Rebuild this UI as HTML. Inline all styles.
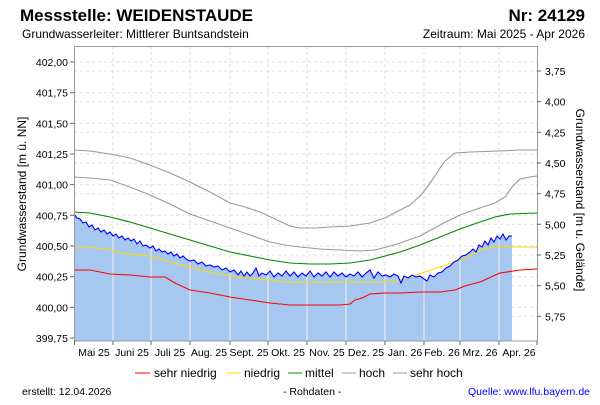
<!DOCTYPE html>
<html><head><meta charset="utf-8"><style>
body{margin:0;width:600px;height:400px;background:#fff;overflow:hidden}
svg{font-family:"Liberation Sans",sans-serif}
</style></head><body>
<svg width="600" height="400" viewBox="0 0 600 400">
<text x="20" y="21" font-size="17" font-weight="bold" fill="#000">Messstelle: WEIDENSTAUDE</text>
<text x="585" y="21" font-size="17" font-weight="bold" text-anchor="end">Nr: 24129</text>
<text x="22" y="38" font-size="12">Grundwasserleiter:  Mittlerer Buntsandstein</text>
<text x="585" y="38" font-size="12" text-anchor="end">Zeitraum: Mai 2025 - Apr 2026</text>
<g stroke="#ddd" stroke-dasharray="3,3" stroke-width="1">
<line x1="74" x2="537" y1="62" y2="62"/><line x1="74" x2="537" y1="92.7" y2="92.7"/><line x1="74" x2="537" y1="123.3" y2="123.3"/><line x1="74" x2="537" y1="154" y2="154"/><line x1="74" x2="537" y1="184.7" y2="184.7"/><line x1="74" x2="537" y1="215.3" y2="215.3"/><line x1="74" x2="537" y1="246" y2="246"/><line x1="74" x2="537" y1="276.7" y2="276.7"/><line x1="74" x2="537" y1="307.3" y2="307.3"/>
<line x1="74" x2="537" y1="71" y2="71"/><line x1="74" x2="537" y1="101.7" y2="101.7"/><line x1="74" x2="537" y1="132.3" y2="132.3"/><line x1="74" x2="537" y1="163" y2="163"/><line x1="74" x2="537" y1="193.7" y2="193.7"/><line x1="74" x2="537" y1="224.3" y2="224.3"/><line x1="74" x2="537" y1="255" y2="255"/><line x1="74" x2="537" y1="285.7" y2="285.7"/><line x1="74" x2="537" y1="316.3" y2="316.3"/>
<line y1="46" y2="341" x1="113" x2="113"/><line y1="46" y2="341" x1="151" x2="151"/><line y1="46" y2="341" x1="190" x2="190"/><line y1="46" y2="341" x1="230" x2="230"/><line y1="46" y2="341" x1="268" x2="268"/><line y1="46" y2="341" x1="307" x2="307"/><line y1="46" y2="341" x1="346" x2="346"/><line y1="46" y2="341" x1="385" x2="385"/><line y1="46" y2="341" x1="424" x2="424"/><line y1="46" y2="341" x1="460" x2="460"/><line y1="46" y2="341" x1="499" x2="499"/>
</g>
<polygon fill="#a6c8f0" points="74,341 74,214 77,218 80,219 83,223 86,222 89,227 92,225 95,230 98,228 101,232 104,230 107,234 110,232 113,236 116,234 119,238 122,236 125,240 128,238 131,241 134,239 137,244 140,241 143,246 146,245 150,248 153,246 156,251 159,249 162,252 165,251 168,254 171,252 174,256 177,254 180,258 183,256 186,259 190,261 194,260 198,264 202,262 206,266 210,265 214,267 218,266 222,270 226,268 230,272 234,270 238,275 241,271 244,276 247,272 250,276 253,273 256,268 259,276 262,273 266,275 270,271 274,277 278,273 282,276 286,271 290,276 294,272 298,277 302,273 306,276 310,271 314,277 318,273 322,276 326,272 330,277 334,272 338,276 342,273 346,277 350,274 354,276 358,272 362,277 366,273 370,270 374,278 378,272 382,276 386,275 390,277 394,274 398,276 401,283 404,276 408,278 412,275 416,277 420,276 424,279 427,281 430,275 434,277 438,273 442,272 446,268 450,266 454,262 458,260 462,256 466,255 470,252 473,249 476,252 479,245 482,247 485,241 488,245 491,238 494,242 497,236 500,239 503,234 506,240 509,236 512,236 512,341"/>
<g stroke="#e8e8e8" stroke-width="1.2">
<line y1="236" y2="341" x1="113" x2="113"/><line y1="248" y2="341" x1="151" x2="151"/><line y1="261" y2="341" x1="190" x2="190"/><line y1="272" y2="341" x1="230" x2="230"/><line y1="275" y2="341" x1="268" x2="268"/><line y1="277" y2="341" x1="307" x2="307"/><line y1="277" y2="341" x1="346" x2="346"/><line y1="277" y2="341" x1="385" x2="385"/><line y1="279" y2="341" x1="424" x2="424"/><line y1="260" y2="341" x1="460" x2="460"/><line y1="239" y2="341" x1="499" x2="499"/>
</g>
<g fill="none" stroke-width="1.1">
<polyline stroke="#999" points="74,150 90,151 110,154 130,158 150,165 170,173 190,182 210,192 230,203 245,207 260,212 275,219 290,226 300,228 315,228 330,227 350,226 370,223 385,218 400,210 410,205 420,196 425,190 430,183 435,176 440,168 445,161 450,157 455,153 470,152 500,151 520,150 537,150"/>
<polyline stroke="#999" points="74,177 90,178 110,180 130,187 150,195 170,204 190,214 210,221 230,228 250,235 270,242 285,245 300,247 320,249 340,250 360,251 375,250 390,246 400,243 420,236 440,225 460,215 480,208 495,203 505,197 512,187 520,179 530,177 537,176"/>
<polyline stroke="#080" points="74,212 90,213 110,217 130,222 150,228 170,234 190,240 210,246 230,252 250,256 270,260 290,263 310,264 330,264 350,263 370,260 385,256 400,252 420,245 440,237 460,229 480,222 495,217 510,214 537,213"/>
<polyline stroke="#ffd700" points="74,247 90,247 110,250 120,253 150,256 170,262 190,267 210,272 230,276 250,278 270,280 285,282 300,282 320,282 340,282 360,282 380,282 395,281 410,277 425,272 440,267 460,260 480,250 500,246 515,247 537,247"/>
<polyline stroke="#f00" points="74,270 90,270 100,272 110,274 130,275 150,277 165,277 175,283 190,290 210,293 230,297 250,300 270,303 290,305 310,305 340,305 350,304 355,300 362,298 370,294 385,293 400,293 420,292 440,292 455,290 465,286 480,282 500,273 520,270 537,269"/>
<polyline stroke="#00f" stroke-width="1.1" points="74,214 77,218 80,219 83,223 86,222 89,227 92,225 95,230 98,228 101,232 104,230 107,234 110,232 113,236 116,234 119,238 122,236 125,240 128,238 131,241 134,239 137,244 140,241 143,246 146,245 150,248 153,246 156,251 159,249 162,252 165,251 168,254 171,252 174,256 177,254 180,258 183,256 186,259 190,261 194,260 198,264 202,262 206,266 210,265 214,267 218,266 222,270 226,268 230,272 234,270 238,275 241,271 244,276 247,272 250,276 253,273 256,268 259,276 262,273 266,275 270,271 274,277 278,273 282,276 286,271 290,276 294,272 298,277 302,273 306,276 310,271 314,277 318,273 322,276 326,272 330,277 334,272 338,276 342,273 346,277 350,274 354,276 358,272 362,277 366,273 370,270 374,278 378,272 382,276 386,275 390,277 394,274 398,276 401,283 404,276 408,278 412,275 416,277 420,276 424,279 427,281 430,275 434,277 438,273 442,272 446,268 450,266 454,262 458,260 462,256 466,255 470,252 473,249 476,252 479,245 482,247 485,241 488,245 491,238 494,242 497,236 500,239 503,234 506,240 509,236 512,236"/>
</g>
<rect x="74.5" y="46.5" width="463" height="294.5" fill="none" stroke="#999"/>
<g stroke="#666">
<line x1="70" x2="74" y1="62" y2="62"/><line x1="70" x2="74" y1="92.7" y2="92.7"/><line x1="70" x2="74" y1="123.3" y2="123.3"/><line x1="70" x2="74" y1="154" y2="154"/><line x1="70" x2="74" y1="184.7" y2="184.7"/><line x1="70" x2="74" y1="215.3" y2="215.3"/><line x1="70" x2="74" y1="246" y2="246"/><line x1="70" x2="74" y1="276.7" y2="276.7"/><line x1="70" x2="74" y1="307.3" y2="307.3"/><line x1="70" x2="74" y1="338" y2="338"/>
<line x1="537" x2="541" y1="71" y2="71"/><line x1="537" x2="541" y1="101.7" y2="101.7"/><line x1="537" x2="541" y1="132.3" y2="132.3"/><line x1="537" x2="541" y1="163" y2="163"/><line x1="537" x2="541" y1="193.7" y2="193.7"/><line x1="537" x2="541" y1="224.3" y2="224.3"/><line x1="537" x2="541" y1="255" y2="255"/><line x1="537" x2="541" y1="285.7" y2="285.7"/><line x1="537" x2="541" y1="316.3" y2="316.3"/>
<line y1="341" y2="345" x1="74.5" x2="74.5"/><line y1="341" y2="345" x1="113" x2="113"/><line y1="341" y2="345" x1="151" x2="151"/><line y1="341" y2="345" x1="190" x2="190"/><line y1="341" y2="345" x1="230" x2="230"/><line y1="341" y2="345" x1="268" x2="268"/><line y1="341" y2="345" x1="307" x2="307"/><line y1="341" y2="345" x1="346" x2="346"/><line y1="341" y2="345" x1="385" x2="385"/><line y1="341" y2="345" x1="424" x2="424"/><line y1="341" y2="345" x1="460" x2="460"/><line y1="341" y2="345" x1="499" x2="499"/><line y1="341" y2="345" x1="537" x2="537"/>
</g>
<g font-size="10.5" text-anchor="end">
<text x="68" y="66">402,00</text><text x="68" y="96.7">401,75</text><text x="68" y="127.3">401,50</text><text x="68" y="158">401,25</text><text x="68" y="188.7">401,00</text><text x="68" y="219.3">400,75</text><text x="68" y="250">400,50</text><text x="68" y="280.7">400,25</text><text x="68" y="311.3">400,00</text><text x="68" y="342">399,75</text>
</g>
<g font-size="10.5">
<text x="545" y="75">3,75</text><text x="545" y="105.7">4,00</text><text x="545" y="136.3">4,25</text><text x="545" y="167">4,50</text><text x="545" y="197.7">4,75</text><text x="545" y="228.3">5,00</text><text x="545" y="259">5,25</text><text x="545" y="289.7">5,50</text><text x="545" y="320.3">5,75</text>
</g>
<g font-size="10.5" text-anchor="middle">
<text x="94" y="356">Mai 25</text><text x="132" y="356">Juni 25</text><text x="170" y="356">Juli 25</text><text x="209" y="356">Aug. 25</text><text x="249" y="356">Sept. 25</text><text x="288" y="356">Okt. 25</text><text x="327" y="356">Nov. 25</text><text x="366" y="356">Dez. 25</text><text x="405" y="356">Jan. 26</text><text x="442" y="356">Feb. 26</text><text x="480" y="356">Mrz. 26</text><text x="519" y="356">Apr. 26</text>
</g>
<text transform="translate(26,194) rotate(-90)" font-size="12" text-anchor="middle">Grundwasserstand [m ü. NN]</text>
<text transform="translate(576,200) rotate(90)" font-size="12" text-anchor="middle">Grundwasserstand [m u. Gelände]</text>
<g font-size="12">
<line x1="135" x2="150" y1="373" y2="373" stroke="#f00"/><text x="154" y="377">sehr niedrig</text>
<line x1="227" x2="241" y1="373" y2="373" stroke="#ffd700"/><text x="244" y="377">niedrig</text>
<line x1="288" x2="302" y1="373" y2="373" stroke="#080"/><text x="305" y="377">mittel</text>
<line x1="342" x2="356" y1="373" y2="373" stroke="#999"/><text x="359" y="377">hoch</text>
<line x1="393" x2="407" y1="373" y2="373" stroke="#999"/><text x="410" y="377">sehr hoch</text>
</g>
<g font-size="10.5">
<text x="22" y="395">erstellt:  12.04.2026</text>
<text x="283" y="395">- Rohdaten -</text>
<text x="590" y="395" text-anchor="end" fill="#00f">Quelle: www.lfu.bayern.de</text>
</g>
</svg>
</body></html>
